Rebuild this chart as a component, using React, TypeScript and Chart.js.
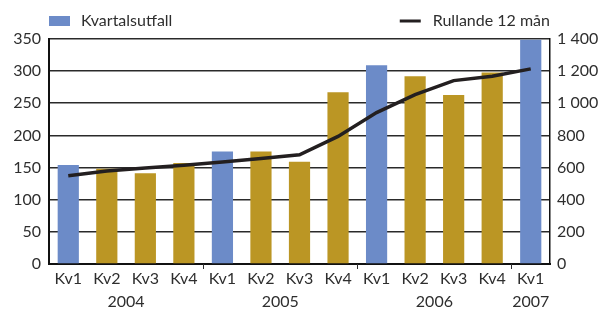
import React, { useEffect, useRef } from 'react';
import { Chart, registerables } from 'chart.js';
Chart.register(...registerables);

const quarters = ['Kv1', 'Kv2', 'Kv3', 'Kv4', 'Kv1', 'Kv2', 'Kv3', 'Kv4', 'Kv1', 'Kv2', 'Kv3', 'Kv4', 'Kv1'];
const categoryYears = ['2004', '2004', '2004', '2004', '2005', '2005', '2005', '2005', '2006', '2006', '2006', '2006', '2007'];
const quarterly = [154, 148, 141, 157, 175, 175, 159, 267, 309, 292, 263, 298, 349];
const rolling12 = [549, 578, 597, 615, 634, 657, 680, 794, 942, 1054, 1141, 1168, 1214];
const leftMax = 350;
const leftStep = 50;
const rightMax = 1400;
const rightStep = 200;

const BLUE = '#6c8bc8';
const GOLD = '#bb9624';
const LINE = '#231f20';
const TEXT = '#2e2e2e';
const FONT = 'Lato, sans-serif';
const FONT_SIZE = 16;

const fmt = (v: number) => String(v).replace(/\B(?=(\d{3})+(?!\d))/g, ' ');

const overlayPlugin = {
  id: 'overlay',
  afterDraw(chart: any) {
    const { ctx, chartArea } = chart;
    const x = chart.scales.x;
    ctx.save();
    // group separators
    ctx.strokeStyle = TEXT;
    ctx.lineWidth = 1;
    for (let i = 1; i < categoryYears.length; i++) {
      if (categoryYears[i] !== categoryYears[i - 1]) {
        const px = Math.round((x.getPixelForValue(i - 1) + x.getPixelForValue(i)) / 2) + 0.5;
        ctx.beginPath();
        ctx.moveTo(px, chartArea.bottom);
        ctx.lineTo(px, chartArea.bottom + 5);
        ctx.stroke();
      }
    }
    // year labels
    ctx.fillStyle = TEXT;
    ctx.font = `${FONT_SIZE}px ${FONT}`;
    ctx.textAlign = 'center';
    ctx.textBaseline = 'middle';
    let start = 0;
    for (let i = 1; i <= categoryYears.length; i++) {
      if (i === categoryYears.length || categoryYears[i] !== categoryYears[start]) {
        const cx = (x.getPixelForValue(start) + x.getPixelForValue(i - 1)) / 2;
        ctx.fillText(categoryYears[start], cx, chartArea.bottom + 38);
        start = i;
      }
    }
    // legend
    const ly = 21;
    const ds0 = chart.data.datasets[0];
    const ds1 = chart.data.datasets[1];
    ctx.fillStyle = BLUE;
    ctx.fillRect(chartArea.left, ly - 5, 21, 10);
    ctx.fillStyle = TEXT;
    ctx.textAlign = 'left';
    ctx.fillText(ds0.label, chartArea.left + 32, ly);
    const w1 = ctx.measureText(ds1.label).width;
    const tx = chartArea.right - w1;
    ctx.fillText(ds1.label, tx, ly);
    ctx.strokeStyle = LINE;
    ctx.lineWidth = 3;
    ctx.beginPath();
    ctx.moveTo(tx - 33, ly);
    ctx.lineTo(tx - 12, ly);
    ctx.stroke();
    ctx.restore();
  },
};

export default function App() {
  const ref = useRef<HTMLCanvasElement>(null);
  useEffect(() => {
    if (!ref.current) return;
    const chart = new Chart(ref.current, {
      data: {
        labels: quarters,
        datasets: [
          {
            type: 'bar',
            label: 'Kvartalsutfall',
            data: quarterly,
            backgroundColor: quarters.map((q) => (q === 'Kv1' ? BLUE : GOLD)),
            barPercentage: 0.55,
            categoryPercentage: 1,
            yAxisID: 'y',
            order: 2,
          },
          {
            type: 'line',
            label: 'Rullande 12 mån',
            data: rolling12,
            borderColor: LINE,
            borderWidth: 3.5,
            pointRadius: 0,
            tension: 0,
            yAxisID: 'y1',
            order: 1,
          },
        ],
      } as any,
      options: {
        animation: false,
        responsive: true,
        maintainAspectRatio: false,
        layout: { padding: { top: 39, left: 0, right: 0, bottom: 0 } },
        plugins: { legend: { display: false }, tooltip: { enabled: false } },
        scales: {
          x: {
            grid: { display: false, drawTicks: false },
            border: { display: true, color: '#111', width: 2 },
            ticks: { color: TEXT, font: { family: FONT, size: FONT_SIZE }, padding: 5, maxRotation: 0, autoSkip: false },
            afterFit: (s: any) => { s.height = 46; },
          },
          y: {
            position: 'left',
            min: 0,
            max: leftMax,
            ticks: { stepSize: leftStep, color: TEXT, font: { family: FONT, size: FONT_SIZE }, padding: 8 },
            grid: { color: '#2a2a2a', lineWidth: 1.6, drawTicks: false },
            border: { display: true, color: '#111', width: 2 },
            afterFit: (s: any) => { s.width = 49; },
          },
          y1: {
            position: 'right',
            min: 0,
            max: rightMax,
            ticks: { stepSize: rightStep, color: TEXT, font: { family: FONT, size: FONT_SIZE }, padding: 7, callback: (v: any) => fmt(Number(v)) },
            grid: { display: false, drawTicks: false },
            border: { display: true, color: '#111', width: 1.5 },
            afterFit: (s: any) => { s.width = 51; },
          },
        },
      },
      plugins: [overlayPlugin],
    } as any);
    return () => chart.destroy();
  }, []);
  return (
    <div style={{ position: 'absolute', left: 0, top: 0, width: 601, height: 310, background: '#fff' }}>
      <canvas ref={ref} />
    </div>
  );
}
